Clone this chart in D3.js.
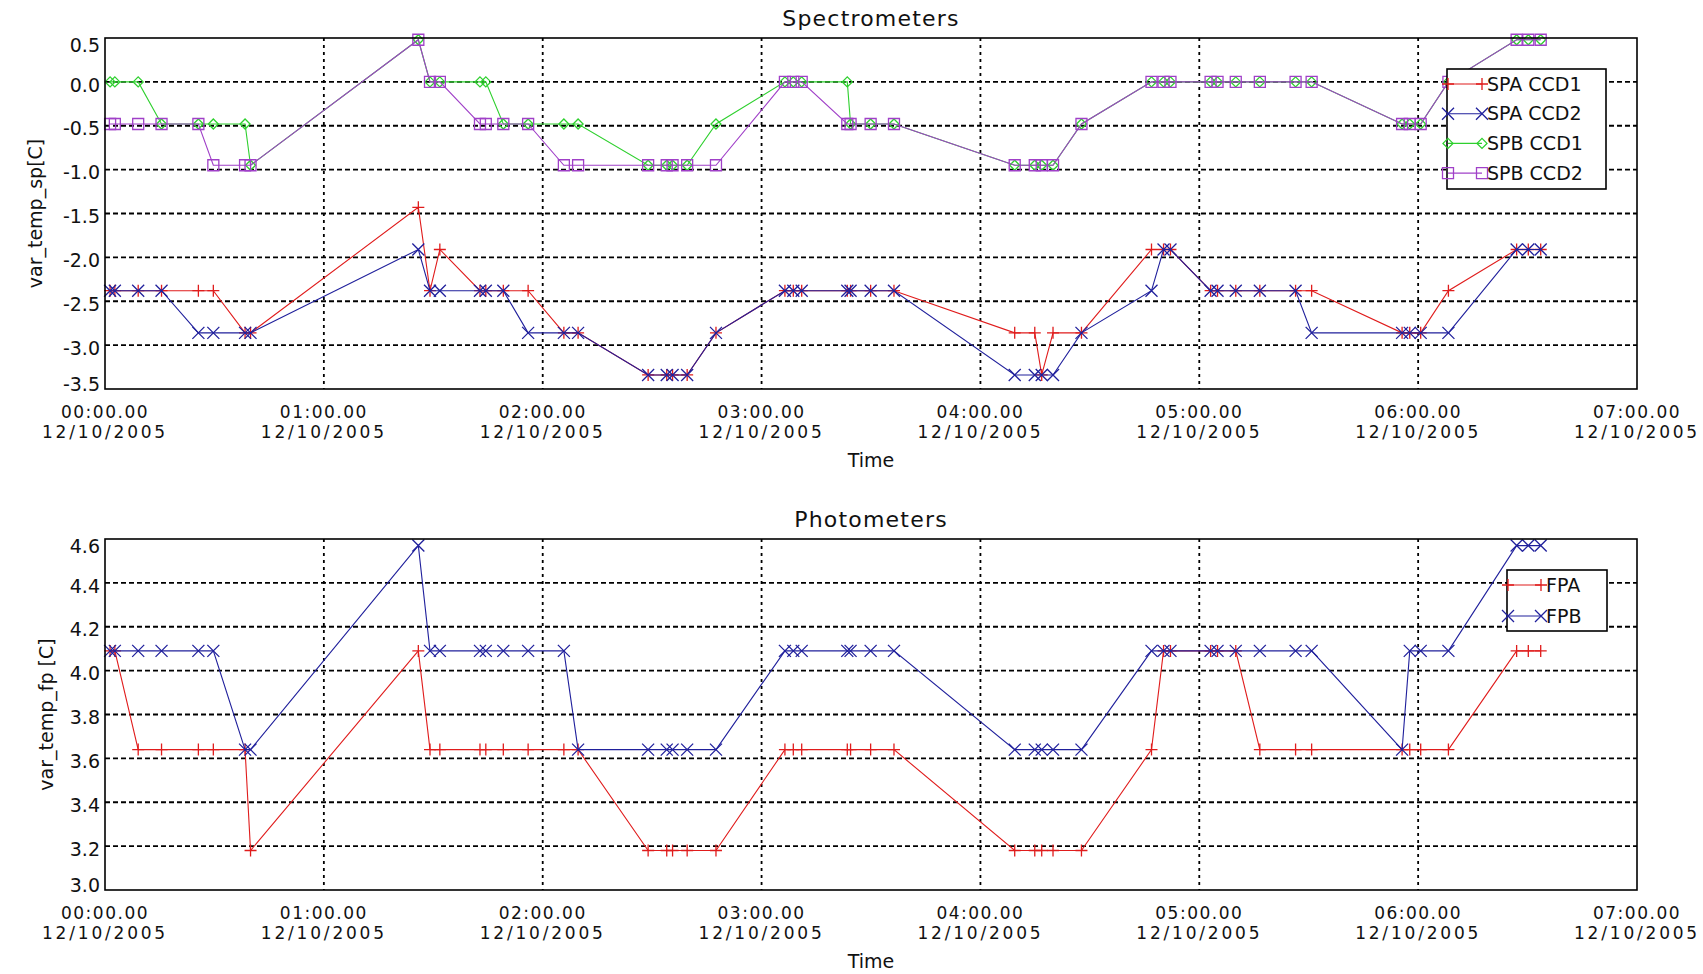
<!DOCTYPE html>
<html lang="en">
<head>
<meta charset="UTF-8">
<title>Spectrometers / Photometers</title>
<script src="https://d3js.org/d3.v7.min.js"></script>
<style>
  body { margin: 0; background: #fff; }
  svg { display: block; font-family: "DejaVu Sans", sans-serif; fill: #111; }
  .lbl { font-size: 19px; }
  .xlbl { font-size: 17px; }
  .title { font-size: 22px; letter-spacing: 1.2px; }
</style>
</head>
<body>
<svg id="chart" width="1703" height="974"></svg>
<script>
  // sample times, minutes after 00:00 on 12/10/2005
  const sampleMinutes = [1.4, 2.7, 9.1, 15.5, 25.6, 29.7, 38.4, 39.9, 85.9, 89.1,
    91.8, 102.8, 104.4, 109.2, 116.0, 125.8, 129.7, 148.9, 154.0, 155.6,
    159.6, 167.5, 186.4, 188.7, 191.0, 203.5, 204.4, 209.9, 216.3, 249.4,
    254.9, 256.8, 259.9, 267.7, 286.9, 290.2, 292.1, 303.1, 305.0, 310.0,
    316.6, 326.4, 330.8, 355.6, 357.7, 360.7, 368.3, 387.0, 390.2, 393.6];

  const spaCcd1 = [-2.38, -2.38, -2.38, -2.38, -2.38, -2.38, -2.86, -2.86, -1.43, -2.38,
    -1.91, -2.38, -2.38, -2.38, -2.38, -2.86, -2.86, -3.34, -3.34, -3.34,
    -3.34, -2.86, -2.38, -2.38, -2.38, -2.38, -2.38, -2.38, -2.38, -2.86,
    -2.86, -3.34, -2.86, -2.86, -1.91, -1.91, -1.91, -2.38, -2.38, -2.38,
    -2.38, -2.38, -2.38, -2.86, -2.86, -2.86, -2.38, -1.91, -1.91, -1.91];
  const spaCcd2 = [-2.38, -2.38, -2.38, -2.38, -2.86, -2.86, -2.86, -2.86, -1.91, -2.38,
    -2.38, -2.38, -2.38, -2.38, -2.86, -2.86, -2.86, -3.34, -3.34, -3.34,
    -3.34, -2.86, -2.38, -2.38, -2.38, -2.38, -2.38, -2.38, -2.38, -3.34,
    -3.34, -3.34, -3.34, -2.86, -2.38, -1.91, -1.91, -2.38, -2.38, -2.38,
    -2.38, -2.38, -2.86, -2.86, -2.86, -2.86, -2.86, -1.91, -1.91, -1.91];
  const spbCcd1 = [0, 0, 0, -0.48, -0.48, -0.48, -0.48, -0.95, 0.48, 0,
    0, 0, 0, -0.48, -0.48, -0.48, -0.48, -0.95, -0.95, -0.95,
    -0.95, -0.48, 0, 0, 0, 0, -0.48, -0.48, -0.48, -0.95,
    -0.95, -0.95, -0.95, -0.48, 0, 0, 0, 0, 0, 0,
    0, 0, 0, -0.48, -0.48, -0.48, 0, 0.48, 0.48, 0.48];
  const spbCcd2 = [-0.48, -0.48, -0.48, -0.48, -0.48, -0.95, -0.95, -0.95, 0.48, 0,
    0, -0.48, -0.48, -0.48, -0.48, -0.95, -0.95, -0.95, -0.95, -0.95,
    -0.95, -0.95, 0, 0, 0, -0.48, -0.48, -0.48, -0.48, -0.95,
    -0.95, -0.95, -0.95, -0.48, 0, 0, 0, 0, 0, 0,
    0, 0, 0, -0.48, -0.48, -0.48, 0, 0.48, 0.48, 0.48];

  const fpa = [4.09, 4.09, 3.64, 3.64, 3.64, 3.64, 3.64, 3.18, 4.09, 3.64,
    3.64, 3.64, 3.64, 3.64, 3.64, 3.64, 3.64, 3.18, 3.18, 3.18,
    3.18, 3.18, 3.64, 3.64, 3.64, 3.64, 3.64, 3.64, 3.64, 3.18,
    3.18, 3.18, 3.18, 3.18, 3.64, 4.09, 4.09, 4.09, 4.09, 4.09,
    3.64, 3.64, 3.64, 3.64, 3.64, 3.64, 3.64, 4.09, 4.09, 4.09];
  const fpb = [4.09, 4.09, 4.09, 4.09, 4.09, 4.09, 3.64, 3.64, 4.57, 4.09,
    4.09, 4.09, 4.09, 4.09, 4.09, 4.09, 3.64, 3.64, 3.64, 3.64,
    3.64, 3.64, 4.09, 4.09, 4.09, 4.09, 4.09, 4.09, 4.09, 3.64,
    3.64, 3.64, 3.64, 3.64, 4.09, 4.09, 4.09, 4.09, 4.09, 4.09,
    4.09, 4.09, 4.09, 3.64, 4.09, 4.09, 4.09, 4.57, 4.57, 4.57];

  const spTicks = [0.5, 0.0, -0.5, -1.0, -1.5, -2.0, -2.5, -3.0, -3.5];
  const fpTicks = [4.6, 4.4, 4.2, 4.0, 3.8, 3.6, 3.4, 3.2, 3.0];
  const timeTickHours = [0, 1, 2, 3, 4, 5, 6, 7];

  const baseDate = new Date(2005, 9, 12, 0, 0, 0);
  const times = sampleMinutes.map(m => new Date(baseDate.getTime() + m * 60000));

  const svg = d3.select("#chart");
  const plotLeft = 105, plotRight = 1637, plotHeight = 351;

  const x = d3.scaleTime()
    .domain([baseDate, d3.timeHour.offset(baseDate, 7)])
    .range([plotLeft, plotRight]);

  const fmtHour = d3.timeFormat("%H:%M.%S");
  const fmtDay = d3.timeFormat("%d/%m/%Y");

  // IDL style symbols, open strokes
  function markerPath(type, s) {
    switch (type) {
      case "plus": return `M${-s},0H${s}M0,${-s}V${s}`;
      case "x": return `M${-s},${-s}L${s},${s}M${-s},${s}L${s},${-s}`;
      case "diamond": return `M0,${-s}L${s},0L0,${s}L${-s},0Z`;
      default: return `M${-s},${-s}H${s}V${s}H${-s}Z`;
    }
  }
  const markerSize = { plus: 6, x: 6, diamond: 5, square: 5.5 };

  function drawPanel(cfg) {
    const top = cfg.top, bottom = top + plotHeight;
    const y = d3.scaleLinear().domain(cfg.yDomain).range([bottom, top]);
    const g = svg.append("g");

    // grid
    const hours = timeTickHours.slice(1, -1).map(h => d3.timeHour.offset(baseDate, h));
    g.selectAll(".vgrid").data(hours).enter().append("line")
      .attr("x1", d => x(d)).attr("x2", d => x(d))
      .attr("y1", top).attr("y2", bottom)
      .attr("stroke", "#000").attr("stroke-width", 1.8)
      .attr("stroke-dasharray", "3,4");
    g.selectAll(".hgrid").data(cfg.yTicks.slice(1, -1)).enter().append("line")
      .attr("x1", plotLeft).attr("x2", plotRight)
      .attr("y1", d => y(d)).attr("y2", d => y(d))
      .attr("stroke", "#000").attr("stroke-width", 1.8)
      .attr("stroke-dasharray", "5,3");

    // series
    cfg.series.forEach(s => {
      const pts = times.map((t, i) => [t, s.values[i]]);
      const line = d3.line().x(d => x(d[0])).y(d => y(d[1]));
      g.append("path").datum(pts)
        .attr("d", line)
        .attr("fill", "none")
        .attr("stroke", s.color)
        .attr("stroke-width", 1.1);
      g.selectAll(null).data(pts).enter().append("path")
        .attr("transform", d => `translate(${x(d[0])},${y(d[1])})`)
        .attr("d", markerPath(s.marker, markerSize[s.marker]))
        .attr("fill", "none")
        .attr("stroke", s.color)
        .attr("stroke-width", 1.3);
    });

    // frame
    g.append("rect")
      .attr("x", plotLeft).attr("y", top)
      .attr("width", plotRight - plotLeft).attr("height", plotHeight)
      .attr("fill", "none").attr("stroke", "#000").attr("stroke-width", 1.6);

    // y tick labels
    const n = cfg.yTicks.length;
    g.selectAll(".ylab").data(cfg.yTicks).enter().append("text")
      .attr("class", "lbl")
      .attr("x", 100)
      .attr("y", (d, i) => y(d) + (i === 0 ? 7 : i === n - 1 ? -5 : 3))
      .attr("dy", "0.35em")
      .attr("text-anchor", "end")
      .text(d => d.toFixed(1));

    // x tick labels, two lines each
    const tickDates = timeTickHours.map(h => d3.timeHour.offset(baseDate, h));
    g.selectAll(".xlab1").data(tickDates).enter().append("text")
      .attr("class", "xlbl")
      .attr("x", d => x(d)).attr("y", bottom + 23.5).attr("dy", "0.35em")
      .attr("text-anchor", "middle")
      .attr("letter-spacing", 1.5)
      .text(d => fmtHour(d));
    g.selectAll(".xlab2").data(tickDates).enter().append("text")
      .attr("class", "xlbl")
      .attr("x", d => x(d)).attr("y", bottom + 43.5).attr("dy", "0.35em")
      .attr("text-anchor", "middle")
      .attr("letter-spacing", 2.8)
      .text(d => fmtDay(d));

    g.append("text").attr("class", "lbl")
      .attr("x", (plotLeft + plotRight) / 2).attr("y", bottom + 71)
      .attr("dy", "0.35em").attr("text-anchor", "middle")
      .text("Time");

    g.append("text").attr("class", "title")
      .attr("x", (plotLeft + plotRight) / 2).attr("y", top - 20)
      .attr("dy", "0.35em").attr("text-anchor", "middle")
      .text(cfg.title);

    g.append("text").attr("class", "lbl")
      .attr("transform", `translate(${cfg.ylabelX},${(top + bottom) / 2}) rotate(-90)`)
      .attr("dy", "0.35em").attr("text-anchor", "middle")
      .text(cfg.ylabel);

    // legend
    const lg = cfg.legend;
    const leg = g.append("g");
    leg.append("rect")
      .attr("x", lg.x).attr("y", lg.y)
      .attr("width", lg.w).attr("height", lg.h)
      .attr("fill", "#fff").attr("stroke", "#000").attr("stroke-width", 1.6);
    cfg.series.forEach((s, i) => {
      const ry = lg.y + lg.firstRow + i * lg.rowStep;
      leg.append("line")
        .attr("x1", lg.x + 1).attr("x2", lg.x + lg.lineLen)
        .attr("y1", ry).attr("y2", ry)
        .attr("stroke", s.color).attr("stroke-width", 1.1);
      [lg.x + 1, lg.x + lg.lineLen].forEach(mx => {
        leg.append("path")
          .attr("transform", `translate(${mx},${ry})`)
          .attr("d", markerPath(s.marker, markerSize[s.marker]))
          .attr("fill", "none").attr("stroke", s.color).attr("stroke-width", 1.3);
      });
      leg.append("text").attr("class", "lbl")
        .attr("x", lg.x + lg.lineLen + 5).attr("y", ry).attr("dy", "0.35em")
        .text(s.name);
    });
  }

  drawPanel({
    top: 38,
    yDomain: [-3.5, 0.5],
    yTicks: spTicks,
    title: "Spectrometers",
    ylabel: "var_temp_sp[C]",
    ylabelX: 35,
    series: [
      { name: "SPA CCD1", values: spaCcd1, color: "#e01c1c", marker: "plus" },
      { name: "SPA CCD2", values: spaCcd2, color: "#20209c", marker: "x" },
      { name: "SPB CCD1", values: spbCcd1, color: "#2ed02e", marker: "diamond" },
      { name: "SPB CCD2", values: spbCcd2, color: "#a040c8", marker: "square" }
    ],
    legend: { x: 1447, y: 69, w: 159, h: 120, firstRow: 15, rowStep: 29.7, lineLen: 35 }
  });

  drawPanel({
    top: 539,
    yDomain: [3.0, 4.6],
    yTicks: fpTicks,
    title: "Photometers",
    ylabel: "var_temp_fp [C]",
    ylabelX: 46,
    series: [
      { name: "FPA", values: fpa, color: "#e01c1c", marker: "plus" },
      { name: "FPB", values: fpb, color: "#20209c", marker: "x" }
    ],
    legend: { x: 1507, y: 570, w: 100, h: 61, firstRow: 15, rowStep: 31, lineLen: 34 }
  });
</script>
</body>
</html>
